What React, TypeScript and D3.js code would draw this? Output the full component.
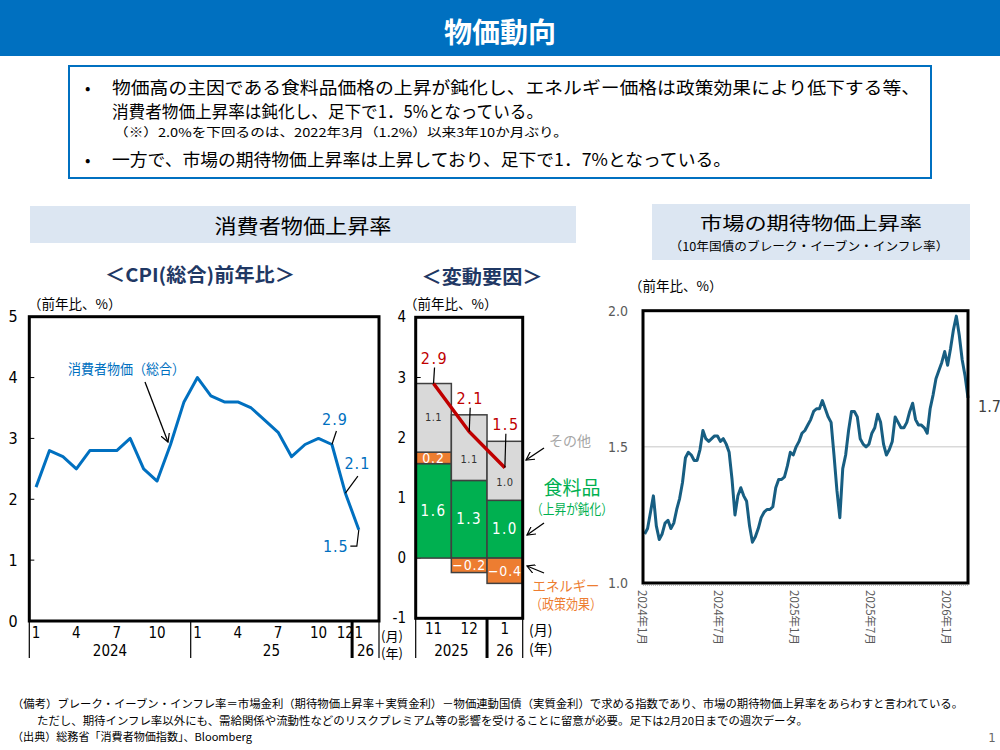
import React from "react";
import * as d3 from "d3";

const JP = "'Noto Sans CJK JP', 'Noto Sans', sans-serif";
const NUM = "'Liberation Sans Narrow', 'DejaVu Sans Condensed', 'Noto Sans CJK JP', sans-serif";

// ---- CPI (総合) 前年比, monthly ----
const cpiMonths = [
  "2024-01", "2024-02", "2024-03", "2024-04", "2024-05", "2024-06", "2024-07", "2024-08", "2024-09",
  "2024-10", "2024-11", "2024-12", "2025-01", "2025-02", "2025-03", "2025-04", "2025-05", "2025-06",
  "2025-07", "2025-08", "2025-09", "2025-10", "2025-11", "2025-12", "2026-01", "2026-02",
];
const cpiValues = [
  2.2, 2.8, 2.7, 2.5, 2.8, 2.8, 2.8, 3.0, 2.5, 2.3, 2.9, 3.6,
  4.0, 3.7, 3.6, 3.6, 3.5, 3.3, 3.1, 2.7, 2.9, 3.0, 2.9, 2.1, 1.5,
];
const cpiTickMonths = ["2024-01", "2024-04", "2024-07", "2024-10", "2025-01", "2025-04", "2025-07", "2025-10", "2025-12", "2026-01"];
const cpiYearLabels = ["2024", "25", "26"];
const cpiYearFirst = ["2024-01", "2025-01", "2026-01"];
const cpiYearLast = ["2024-12", "2025-12", "2026-02"];
const cpiCalloutMonths = ["2025-11", "2025-12", "2026-01"];
const cpiYTicks = [0, 1, 2, 3, 4, 5];

// ---- 変動要因 ----
const factorMonths = ["11", "12", "1"];
const factorYears = ["2025", "26"];
const foodValues = [1.57, 1.29, 0.96];
const energyValues = [0.19, -0.24, -0.42];
const otherValues = [1.14, 1.09, 0.98];
const totalValues = [2.9, 2.1, 1.5];
const factorYTicks = [-1, 0, 1, 2, 3, 4];

// ---- BEI 10年, weekly (Fridays from 2024-01-05 to 2026-02-20) ----
const beiStart = "2024-01-05";
const beiValues = [
  1.18, 1.2, 1.26, 1.32, 1.21, 1.16, 1.18, 1.22, 1.23, 1.2, 1.22, 1.27, 1.31, 1.37, 1.46, 1.48,
  1.47, 1.45, 1.45, 1.49, 1.56, 1.53, 1.52, 1.53, 1.54, 1.54, 1.52, 1.53, 1.51, 1.48, 1.38, 1.25,
  1.32, 1.35, 1.32, 1.3, 1.21, 1.15, 1.17, 1.2, 1.24, 1.26, 1.27, 1.27, 1.28, 1.35, 1.38, 1.38,
  1.39, 1.43, 1.48, 1.47, 1.5, 1.52, 1.55, 1.56, 1.58, 1.6, 1.63, 1.64, 1.64, 1.67, 1.64, 1.61,
  1.59, 1.47, 1.34, 1.24, 1.42, 1.47, 1.56, 1.63, 1.63, 1.61, 1.53, 1.51, 1.5, 1.51, 1.55, 1.57,
  1.62, 1.59, 1.51, 1.47, 1.49, 1.52, 1.61, 1.59, 1.57, 1.57, 1.59, 1.63, 1.66, 1.6, 1.58, 1.58,
  1.57, 1.55, 1.64, 1.69, 1.75, 1.78, 1.81, 1.85, 1.8, 1.86, 1.93, 1.98, 1.91, 1.82, 1.76, 1.68,
];
const beiTickDates = ["2024-01-01", "2024-07-01", "2025-01-01", "2025-07-01", "2026-01-01"];
const beiTickLabels = ["2024年1月", "2024年7月", "2025年1月", "2025年7月", "2026年1月"];
const beiYTicks = [1.0, 1.5, 2.0];
const beiLatestLabel = "1.7";

const BLUE = "#0070c0";
const NAVY = "#1f3864";
const GREEN = "#00b050";
const ORANGE = "#ed7d31";
const GRAY = "#d9d9d9";
const RED = "#c00000";
const BEI_COLOR = "#175e82";

export default function App() {
  // left chart
  const L = { left: 29.3, right: 379, top: 316.7, bottom: 621 };
  const xL = d3.scaleBand<string>().domain(cpiMonths).range([L.left, L.right]);
  const yL = d3.scaleLinear().domain([0, 5]).range([L.bottom, L.top]);
  const cx = (m: string) => (xL(m) as number) + xL.bandwidth() / 2;
  const cpiLine = d3
    .line<number>()
    .x((_, i) => cx(cpiMonths[i]))
    .y((d) => yL(d));

  // middle chart
  const M = { left: 415.7, right: 522.7, top: 317.3, bottom: 618.3 };
  const xM = d3.scaleBand<string>().domain(factorMonths).range([M.left, M.right]);
  const yM = d3.scaleLinear().domain([-1, 4]).range([M.bottom, M.top]);
  const mx = (m: string) => (xM(m) as number) + xM.bandwidth() / 2;
  const rows = factorMonths.map((m, i) => ({ m, food: foodValues[i], energy: energyValues[i], other: otherValues[i] }));
  const series = d3
    .stack<any>()
    .keys(["food", "energy", "other"])
    .offset(d3.stackOffsetDiverging)(rows);
  const colorOf: Record<string, string> = { food: GREEN, energy: ORANGE, other: GRAY };
  const valuesOf: Record<string, number[]> = { food: foodValues, energy: energyValues, other: otherValues };
  const totalLine = d3
    .line<number>()
    .x((_, i) => mx(factorMonths[i]))
    .y((d) => yM(d));
  const totalLabelLift = [25, 33, 43];

  // right chart
  const R = { left: 643, right: 968, top: 310.7, bottom: 583 };
  const parse = d3.timeParse("%Y-%m-%d");
  const start = parse(beiStart) as Date;
  const beiDates = beiValues.map((_, i) => d3.timeDay.offset(start, 7 * i));
  const xR = d3
    .scaleTime()
    .domain([new Date(2024, 0, 1), beiDates[beiDates.length - 1]])
    .range([R.left, R.right]);
  const yR = d3.scaleLinear().domain([1, 2]).range([R.bottom, R.top]);
  const beiLine = d3
    .line<number>()
    .x((_, i) => xR(beiDates[i]))
    .y((d) => yR(d));

  const fmt = d3.format(".1f");

  return (
    <div style={{ position: "absolute", left: 0, top: 0 }}>
      <svg width={1000} height={750} style={{ display: "block", background: "#fff" }} fontFamily={JP}>
        <defs>
          <marker id="vhead" viewBox="0 0 10 10" refX={9} refY={5} markerWidth={7} markerHeight={7} orient="auto">
            <path d="M0,0 L9,5 L0,10" fill="none" stroke="#000" strokeWidth={1.3} />
          </marker>
        </defs>

        {/* header */}
        <rect x={0} y={0} width={1000} height={56} fill={BLUE} />
        <text x={500} y={31} textAnchor="middle" dominantBaseline="central" fill="#fff" fontSize={28} fontWeight="bold">
          物価動向
        </text>

        {/* summary box */}
        <rect x={69} y={66} width={862} height={112} fill="#fff" stroke={BLUE} strokeWidth={2} />
        <text x={85} y={87} dominantBaseline="central" fontSize={16}>•</text>
        <text x={112} y={86} dominantBaseline="central" fontSize={17.5} textLength={808} lengthAdjust="spacingAndGlyphs">
          物価高の主因である食料品価格の上昇が鈍化し、エネルギー価格は政策効果により低下する等、
        </text>
        <text x={112} y={110} dominantBaseline="central" fontSize={17.5} textLength={431} lengthAdjust="spacingAndGlyphs">
          消費者物価上昇率は鈍化し、足下で1．5%となっている。
        </text>
        <text x={114} y={131} dominantBaseline="central" fontSize={12} textLength={454} lengthAdjust="spacingAndGlyphs">
          （※）2.0%を下回るのは、2022年3月（1.2%）以来3年10か月ぶり。
        </text>
        <text x={85} y={159} dominantBaseline="central" fontSize={16}>•</text>
        <text x={112} y={158} dominantBaseline="central" fontSize={17.5} textLength={619} lengthAdjust="spacingAndGlyphs">
          一方で、市場の期待物価上昇率は上昇しており、足下で1．7%となっている。
        </text>

        {/* section headers */}
        <rect x={30} y={206} width={546} height={37} fill="#dce6f2" />
        <text x={303} y={225} textAnchor="middle" dominantBaseline="central" fontSize={20} textLength={177} lengthAdjust="spacingAndGlyphs">
          消費者物価上昇率
        </text>
        <rect x={652} y={204} width={318} height={56} fill="#dce6f2" />
        <text x={811} y={222} textAnchor="middle" dominantBaseline="central" fontSize={18.5} textLength={222} lengthAdjust="spacingAndGlyphs">
          市場の期待物価上昇率
        </text>
        <text x={809} y={245} textAnchor="middle" dominantBaseline="central" fontSize={12} textLength={279} lengthAdjust="spacingAndGlyphs">
          （10年国債のブレーク・イーブン・インフレ率）
        </text>

        <text x={200} y={273} textAnchor="middle" dominantBaseline="central" fontSize={19} fontWeight="bold" fill={NAVY} textLength={190} lengthAdjust="spacingAndGlyphs">
          ＜CPI(総合)前年比＞
        </text>
        <text x={482} y={275} textAnchor="middle" dominantBaseline="central" fontSize={19} fontWeight="bold" fill={NAVY} textLength={121} lengthAdjust="spacingAndGlyphs">
          ＜変動要因＞
        </text>

        {/* ===== left chart ===== */}
        <text x={28} y={303} dominantBaseline="central" fontSize={13.5}>（前年比、%）</text>
        {cpiYTicks.map((t) => (
          <g key={t}>
            <text x={13} y={yL(t)} textAnchor="middle" dominantBaseline="central" fontSize={16} fontFamily={NUM}>
              {t}
            </text>
            <line x1={L.left} x2={L.left + 5} y1={yL(t)} y2={yL(t)} stroke="#000" strokeWidth={1} />
          </g>
        ))}
        <path d={cpiLine(cpiValues) as string} fill="none" stroke={BLUE} strokeWidth={3} strokeLinejoin="round" />
        <rect x={L.left} y={L.top} width={L.right - L.left} height={L.bottom - L.top} fill="none" stroke="#000" strokeWidth={3} />
        {cpiTickMonths.map((m) => (
          <text key={m} x={cx(m)} y={633} textAnchor="middle" dominantBaseline="central" fontSize={15} fontFamily={NUM}>
            {+m.slice(5)}
          </text>
        ))}
        {cpiYearLabels.map((lab, i) => {
          const a = xL(cpiYearFirst[i]) as number;
          const b = (xL(cpiYearLast[i]) as number) + xL.bandwidth();
          return (
            <text key={lab} x={(a + b) / 2} y={651} textAnchor="middle" dominantBaseline="central" fontSize={15} fontFamily={NUM}>
              {lab}
            </text>
          );
        })}
        {cpiYearFirst.map((m, i) => (
          <line key={m} x1={xL(m) as number} x2={xL(m) as number} y1={L.bottom} y2={658} stroke="#000" strokeWidth={i === 2 ? 3 : 1.2} />
        ))}
        <line x1={L.right} x2={L.right} y1={L.bottom} y2={658} stroke="#000" strokeWidth={1.2} />
        <text x={381} y={635} dominantBaseline="central" fontSize={13}>(月)</text>
        <text x={381} y={652} dominantBaseline="central" fontSize={13}>(年)</text>

        <text x={68} y={368} dominantBaseline="central" fontSize={14} fill={BLUE} textLength={117} lengthAdjust="spacingAndGlyphs">
          消費者物価（総合）
        </text>
        <line x1={145} y1={382} x2={168} y2={442} stroke="#000" strokeWidth={1.3} markerEnd="url(#vhead)" />

        {cpiCalloutMonths.map((m, k) => {
          const i = cpiMonths.indexOf(m);
          const px = cx(m);
          const py = yL(cpiValues[i]);
          const txt = fmt(cpiValues[i]);
          if (k === 0)
            return (
              <g key={m}>
                <line x1={px} y1={py} x2={px + 4.5} y2={py - 13.5} stroke="#000" strokeWidth={1.2} />
                <text x={px + 3} y={py - 25} textAnchor="middle" dominantBaseline="central" fontSize={16} fill={BLUE} fontFamily={NUM} letterSpacing={1}>
                  {txt}
                </text>
              </g>
            );
          if (k === 1)
            return (
              <g key={m}>
                <line x1={px} y1={py} x2={px + 12.5} y2={py - 17} stroke="#000" strokeWidth={1.2} />
                <text x={px + 12} y={py - 30} textAnchor="middle" dominantBaseline="central" fontSize={16} fill={BLUE} fontFamily={NUM} letterSpacing={1}>
                  {txt}
                </text>
              </g>
            );
          return (
            <g key={m}>
              <polyline points={`${px},${py} ${px - 2},${py + 16.5} ${px - 8.5},${py + 16.5}`} fill="none" stroke="#000" strokeWidth={1.2} />
              <text x={px - 23} y={py + 16.5} textAnchor="middle" dominantBaseline="central" fontSize={16} fill={BLUE} fontFamily={NUM} letterSpacing={1}>
                {txt}
              </text>
            </g>
          );
        })}

        {/* ===== middle chart ===== */}
        <text x={404} y={303} dominantBaseline="central" fontSize={13.5}>（前年比、%）</text>
        {factorYTicks.map((t) => (
          <g key={t}>
            <text x={406} y={yM(t)} textAnchor="end" dominantBaseline="central" fontSize={15} fontFamily={NUM}>
              {t}
            </text>
            <line x1={M.left} x2={M.left + 5} y1={yM(t)} y2={yM(t)} stroke="#000" strokeWidth={1} />
          </g>
        ))}
        {series.map((s) =>
          s.map((d, i) => (
            <rect
              key={s.key + i}
              x={xM(factorMonths[i]) as number}
              width={xM.bandwidth()}
              y={yM(d[1])}
              height={yM(d[0]) - yM(d[1])}
              fill={colorOf[s.key]}
              stroke="#404040"
              strokeWidth={1.5}
            />
          ))
        )}
        {series.map((s) =>
          s.map((d, i) => {
            const v = valuesOf[s.key][i];
            const isOther = s.key === "other";
            const isEnergy = s.key === "energy";
            const y = (yM(d[0]) + yM(d[1])) / 2 + (isOther && i > 0 ? 12 : 0);
            return (
              <text
                key={"l" + s.key + i}
                x={mx(factorMonths[i])}
                y={y}
                textAnchor="middle"
                dominantBaseline="central"
                fontSize={isOther ? 11 : isEnergy ? 14 : 15}
                fill={isOther ? "#333" : "#fff"}
                fontFamily={NUM}
                letterSpacing={isOther ? 0.5 : isEnergy ? 0.8 : 1.5}
              >
                {fmt(v)}
              </text>
            );
          })
        )}
        <path d={totalLine(totalValues) as string} fill="none" stroke={RED} strokeWidth={3.5} />
        {totalValues.map((v, i) => {
          const px = mx(factorMonths[i]);
          const py = yM(v);
          const ly = py - totalLabelLift[i];
          return (
            <g key={"t" + i}>
              <line x1={px + 1} y1={ly + 9} x2={px} y2={py} stroke="#000" strokeWidth={1.2} />
              <text x={px + 1} y={ly} textAnchor="middle" dominantBaseline="central" fontSize={16} fill={RED} fontFamily={NUM} letterSpacing={1.5}>
                {fmt(v)}
              </text>
            </g>
          );
        })}
        <rect x={M.left} y={M.top} width={M.right - M.left} height={M.bottom - M.top} fill="none" stroke="#000" strokeWidth={3} />
        {factorMonths.map((m) => (
          <text key={m} x={mx(m)} y={629} textAnchor="middle" dominantBaseline="central" fontSize={15} fontFamily={NUM}>
            {m}
          </text>
        ))}
        <text x={(M.left + (xM("12") as number) + xM.bandwidth()) / 2} y={651} textAnchor="middle" dominantBaseline="central" fontSize={15} fontFamily={NUM}>
          {factorYears[0]}
        </text>
        <text x={mx("1")} y={651} textAnchor="middle" dominantBaseline="central" fontSize={15} fontFamily={NUM}>
          {factorYears[1]}
        </text>
        <line x1={M.left} x2={M.left} y1={M.bottom} y2={658} stroke="#000" strokeWidth={1.2} />
        <line x1={xM("1") as number} x2={xM("1") as number} y1={M.bottom} y2={658} stroke="#000" strokeWidth={3} />
        <line x1={M.right} x2={M.right} y1={M.bottom} y2={658} stroke="#000" strokeWidth={1.2} />
        <text x={529} y={629} dominantBaseline="central" fontSize={14}>(月)</text>
        <text x={529} y={648} dominantBaseline="central" fontSize={14}>(年)</text>

        <text x={549} y={440} dominantBaseline="central" fontSize={14} fill="#a6a6a6">その他</text>
        <line x1={544} y1={448} x2={526} y2={460} stroke="#000" strokeWidth={1.3} markerEnd="url(#vhead)" />
        <text x={572} y={486} textAnchor="middle" dominantBaseline="central" fontSize={19} fill={GREEN}>食料品</text>
        <text x={572} y={508} textAnchor="middle" dominantBaseline="central" fontSize={14} fill={GREEN} textLength={82} lengthAdjust="spacingAndGlyphs">
          （上昇が鈍化）
        </text>
        <line x1={544} y1={523} x2={527} y2={535} stroke="#000" strokeWidth={1.3} markerEnd="url(#vhead)" />
        <line x1={544} y1={573} x2={527} y2={566} stroke="#000" strokeWidth={1.3} markerEnd="url(#vhead)" />
        <text x={566} y={585} textAnchor="middle" dominantBaseline="central" fontSize={14} fill={ORANGE} textLength={67} lengthAdjust="spacingAndGlyphs">
          エネルギー
        </text>
        <text x={566} y={603} textAnchor="middle" dominantBaseline="central" fontSize={14} fill={ORANGE} textLength={72} lengthAdjust="spacingAndGlyphs">
          （政策効果）
        </text>

        {/* ===== right chart ===== */}
        <text x={629} y={285} dominantBaseline="central" fontSize={13.5}>（前年比、%）</text>
        <line x1={R.left} x2={R.right} y1={yR(1.5)} y2={yR(1.5)} stroke={GRAY} strokeWidth={1.5} />
        <line x1={R.left} x2={R.right} y1={R.bottom + 2.5} y2={R.bottom + 2.5} stroke="#bbb" strokeWidth={1} strokeDasharray="1,1" />
        {beiYTicks.map((t) => (
          <text key={t} x={628} y={yR(t)} textAnchor="end" dominantBaseline="central" fontSize={14} fill="#595959" fontFamily={NUM}>
            {fmt(t)}
          </text>
        ))}
        <path d={beiLine(beiValues) as string} fill="none" stroke={BEI_COLOR} strokeWidth={3} strokeLinejoin="round" />
        <rect x={R.left} y={R.top} width={R.right - R.left} height={R.bottom - R.top} fill="none" stroke="#000" strokeWidth={3} />
        {beiTickDates.map((ds, i) => (
          <text
            key={ds}
            transform={`translate(${xR(parse(ds) as Date)},${R.bottom + 7}) rotate(90)`}
            dominantBaseline="central"
            fontSize={11.5}
            fill="#595959"
          >
            {beiTickLabels[i]}
          </text>
        ))}
        <text x={978} y={406} dominantBaseline="central" fontSize={16} fill="#404040" fontFamily={NUM}>
          {beiLatestLabel}
        </text>

        {/* footer */}
        <text x={12} y={703} dominantBaseline="central" fontSize={11} textLength={951} lengthAdjust="spacingAndGlyphs">
          （備考）ブレーク・イーブン・インフレ率＝市場金利（期待物価上昇率＋実質金利）－物価連動国債（実質金利）で求める指数であり、市場の期待物価上昇率をあらわすと言われている。
        </text>
        <text x={37} y={720} dominantBaseline="central" fontSize={11} textLength={771} lengthAdjust="spacingAndGlyphs">
          ただし、期待インフレ率以外にも、需給関係や流動性などのリスクプレミアム等の影響を受けることに留意が必要。足下は2月20日までの週次データ。
        </text>
        <text x={12} y={736} dominantBaseline="central" fontSize={11} textLength={240} lengthAdjust="spacingAndGlyphs">
          （出典）総務省「消費者物価指数」、Bloomberg
        </text>
        <text x={992} y={737} textAnchor="middle" dominantBaseline="central" fontSize={13} fill="#666" fontFamily={NUM}>
          1
        </text>
      </svg>
    </div>
  );
}
